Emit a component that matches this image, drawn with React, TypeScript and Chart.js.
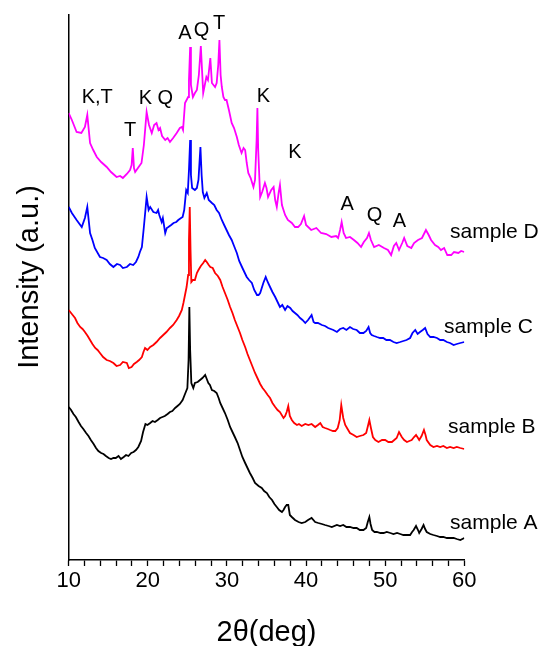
import { useEffect, useRef } from "react";
import { Chart, registerables } from "chart.js";

Chart.register(...registerables);

const FONT = "'Liberation Sans', Arial, Helvetica, sans-serif";

// x axis (2θ, degrees)
const xMin = 10;
const xMax = 60;
const majorTicks = [10, 20, 30, 40, 50, 60];
const yMax = 545; // arbitrary intensity units (stacked, offset patterns)

const sampleNames = ["sample A", "sample B", "sample C", "sample D"];
const sampleColors = ["#000000", "#ff0000", "#0000ff", "#ff00ff"];

// [2θ, intensity]
const sampleA: [number, number][] = [
  [10.0, 153], [10.3, 150], [10.6, 146], [10.9, 143], [11.25, 138], [11.55, 134], [11.85, 131], [12.2, 127],
  [12.5, 124], [12.8, 120], [13.15, 116], [13.45, 112], [13.75, 109], [14.1, 107], [14.4, 106], [14.7, 104],
  [15.05, 102], [15.35, 101], [15.65, 102], [15.95, 102], [16.3, 104], [16.6, 101], [16.95, 103], [17.25, 105],
  [17.55, 104], [17.9, 107], [18.2, 108], [18.5, 110], [18.8, 113], [19.15, 119], [19.4, 128], [19.7, 136],
  [19.95, 135], [20.3, 137], [20.6, 139], [20.9, 138], [21.25, 140], [21.55, 142], [21.85, 143], [22.15, 144],
  [22.5, 146], [22.8, 148], [23.1, 149], [23.45, 152], [23.75, 154], [24.05, 156], [24.4, 160], [24.7, 166],
  [25.0, 172], [25.15, 200], [25.25, 253], [25.35, 210], [25.5, 177], [25.75, 172], [25.95, 177], [26.3, 178],
  [26.6, 180], [26.9, 182], [27.25, 185], [27.4, 182], [27.65, 177], [27.85, 175], [28.1, 170], [28.4, 169],
  [28.7, 167], [28.95, 162], [29.15, 157], [29.45, 152], [29.75, 147], [30.1, 140], [30.4, 133], [30.7, 128],
  [31.0, 123], [31.35, 117], [31.65, 110], [31.95, 103], [32.3, 97], [32.6, 92], [32.9, 87], [33.25, 82],
  [33.55, 77], [34.0, 74], [34.4, 72], [34.7, 69], [35.05, 67], [35.35, 63], [35.7, 60], [36.0, 56],
  [36.3, 53], [36.6, 50], [36.95, 48], [37.15, 50], [37.35, 53], [37.55, 55], [37.75, 55], [37.95, 45],
  [38.2, 43], [38.6, 40], [39.05, 38], [39.45, 37], [39.9, 38], [40.25, 40], [40.7, 42], [41.15, 38],
  [41.55, 37], [42.0, 36], [42.4, 35], [42.85, 34], [43.25, 33], [43.9, 35], [44.3, 34], [44.7, 35],
  [45.1, 33], [45.55, 33], [46.0, 32], [46.4, 32], [46.8, 30], [47.25, 30], [47.6, 32], [47.8, 38],
  [48.0, 43], [48.15, 36], [48.35, 30], [48.65, 28], [48.95, 28], [49.4, 27], [49.8, 27], [50.2, 28],
  [50.65, 27], [51.05, 26], [51.5, 27], [51.9, 26], [52.3, 25], [52.75, 25], [53.15, 25], [53.4, 28],
  [53.6, 30], [53.9, 34], [54.15, 30], [54.3, 27], [54.6, 31], [54.85, 35], [55.05, 31], [55.25, 28],
  [55.7, 26], [56.1, 25], [56.55, 24], [56.95, 23], [57.35, 23], [57.8, 22], [58.2, 22], [58.65, 22],
  [59.05, 21], [59.5, 20], [60.0, 22],
];

const sampleB: [number, number][] = [
  [10.0, 250], [10.5, 245], [10.8, 242], [11.1, 237], [11.45, 233], [11.75, 231], [12.05, 228], [12.4, 224],
  [12.7, 220], [13.0, 216], [13.35, 212], [13.65, 210], [13.95, 207], [14.35, 203], [14.8, 200], [15.2, 199],
  [15.65, 197], [16.05, 194], [16.5, 195], [16.85, 198], [17.35, 197], [17.6, 192], [17.95, 193], [18.25, 196],
  [18.6, 198], [18.9, 200], [19.25, 203], [19.45, 208], [19.65, 212], [19.95, 210], [20.3, 213], [20.7, 215],
  [21.1, 218], [21.55, 222], [21.95, 225], [22.35, 228], [22.8, 232], [23.2, 235], [23.65, 240], [23.95, 244],
  [24.3, 250], [24.5, 257], [24.7, 265], [24.9, 273], [25.1, 285], [25.2, 320], [25.3, 353], [25.4, 310],
  [25.5, 278], [25.7, 280], [25.95, 280], [26.2, 287], [26.4, 290], [26.7, 294], [27.0, 297], [27.25, 300],
  [27.45, 298], [27.7, 295], [27.9, 293], [28.2, 292], [28.5, 287], [28.85, 284], [29.15, 280], [29.45, 273],
  [29.75, 267], [30.1, 260], [30.4, 253], [30.7, 247], [31.0, 240], [31.35, 233], [31.65, 227], [31.95, 220],
  [32.3, 213], [32.6, 206], [32.9, 200], [33.25, 193], [33.55, 187], [33.85, 182], [34.2, 176], [34.5, 172],
  [34.8, 169], [35.15, 165], [35.45, 162], [35.75, 157], [36.1, 153], [36.4, 150], [36.7, 148], [37.15, 142],
  [37.35, 144], [37.55, 148], [37.75, 154], [37.95, 144], [38.2, 140], [38.5, 137], [38.85, 135], [39.1, 136],
  [39.45, 134], [39.9, 136], [40.3, 135], [40.7, 136], [41.15, 133], [41.5, 135], [41.8, 137], [42.1, 133],
  [42.4, 132], [42.75, 131], [43.05, 130], [43.4, 129], [43.7, 129], [44.0, 132], [44.25, 140], [44.45, 155],
  [44.7, 142], [44.95, 135], [45.25, 131], [45.55, 127], [46.0, 125], [46.4, 123], [46.8, 124], [47.25, 125],
  [47.6, 127], [47.85, 135], [48.0, 140], [48.2, 132], [48.45, 123], [48.75, 120], [49.15, 118], [49.6, 120],
  [50.0, 120], [50.4, 118], [50.85, 118], [51.15, 120], [51.45, 122], [51.75, 128], [52.1, 123], [52.4, 120],
  [52.75, 118], [53.05, 119], [53.35, 120], [53.65, 123], [53.9, 125], [54.15, 122], [54.3, 120], [54.6, 124],
  [54.9, 130], [55.1, 125], [55.25, 120], [55.7, 115], [56.1, 113], [56.55, 114], [56.95, 113], [57.35, 114],
  [57.8, 112], [58.2, 113], [58.65, 112], [59.05, 113], [59.5, 112], [60.0, 111],
];

const sampleC: [number, number][] = [
  [10.0, 353], [10.4, 347], [11.0, 340], [11.65, 333], [12.05, 342], [12.35, 353], [12.7, 327], [13.0, 320],
  [13.3, 312], [13.95, 303], [14.35, 302], [14.8, 300], [15.2, 296], [15.65, 293], [16.1, 296], [16.5, 295],
  [16.85, 292], [17.35, 293], [17.75, 296], [18.15, 295], [18.5, 298], [18.8, 303], [19.0, 308], [19.25, 313],
  [19.5, 333], [19.85, 363], [20.1, 350], [20.3, 353], [20.7, 348], [21.1, 347], [21.3, 350], [21.45, 345],
  [21.75, 338], [21.9, 342], [22.2, 327], [22.4, 332], [22.6, 333], [22.95, 335], [23.25, 337], [23.6, 338],
  [23.85, 340], [24.2, 342], [24.4, 343], [24.6, 350], [24.85, 370], [25.05, 367], [25.2, 390], [25.35, 420],
  [25.45, 385], [25.6, 372], [25.95, 370], [26.2, 372], [26.4, 380], [26.55, 400], [26.65, 413], [26.8, 385],
  [26.95, 368], [27.15, 362], [27.45, 367], [27.7, 360], [28.1, 357], [28.4, 355], [28.7, 350], [29.0, 347],
  [29.35, 340], [29.65, 335], [29.95, 330], [30.25, 325], [30.6, 320], [30.9, 314], [31.25, 307], [31.55, 299],
  [31.9, 293], [32.2, 288], [32.5, 283], [32.8, 280], [33.15, 277], [33.45, 270], [33.8, 265], [34.0, 265],
  [34.2, 267], [34.6, 277], [34.9, 283], [35.15, 278], [35.45, 273], [35.75, 268], [36.1, 263], [36.4, 258],
  [36.7, 253], [37.0, 255], [37.35, 250], [37.65, 254], [38.0, 252], [38.3, 249], [38.6, 247], [38.9, 245],
  [39.25, 242], [39.55, 240], [39.9, 237], [40.25, 240], [40.7, 245], [40.95, 238], [41.15, 237], [41.5, 237],
  [42.0, 235], [42.4, 234], [42.8, 232], [43.45, 230], [43.9, 228], [44.3, 231], [44.7, 232], [45.1, 230],
  [45.55, 233], [45.95, 231], [46.4, 230], [46.8, 227], [47.25, 227], [47.6, 229], [47.9, 233], [48.1, 227],
  [48.3, 225], [48.6, 224], [48.95, 223], [49.35, 222], [49.75, 222], [50.15, 220], [50.6, 220], [51.05, 218],
  [51.45, 217], [51.9, 218], [52.3, 219], [52.7, 220], [53.15, 222], [53.45, 227], [53.8, 230], [54.1, 226],
  [54.4, 228], [54.75, 230], [55.05, 232], [55.35, 226], [55.7, 223], [56.1, 223], [56.55, 222], [56.95, 220],
  [57.35, 220], [57.8, 218], [58.2, 217], [58.65, 215], [59.05, 216], [59.5, 217], [60.0, 218],
];

const sampleD: [number, number][] = [
  [10.0, 447], [10.4, 440], [11.0, 428], [11.6, 427], [12.05, 433], [12.35, 445], [12.7, 417], [13.1, 410],
  [13.55, 403], [14.1, 398], [14.8, 393], [15.35, 388], [16.05, 383], [16.5, 384], [16.85, 382], [17.35, 386],
  [17.75, 390], [17.95, 395], [18.1, 412], [18.25, 392], [18.4, 388], [18.75, 392], [19.2, 397], [19.5, 415],
  [19.85, 448], [20.15, 435], [20.5, 427], [20.8, 435], [21.1, 437], [21.35, 430], [21.55, 432], [21.8, 424],
  [22.2, 420], [22.5, 422], [22.8, 418], [23.2, 422], [23.65, 427], [24.05, 432], [24.3, 433], [24.45, 430],
  [24.7, 457], [25.1, 463], [25.2, 480], [25.35, 513], [25.45, 475], [25.7, 463], [25.95, 467], [26.2, 470],
  [26.45, 485], [26.7, 514], [26.85, 490], [27.0, 467], [27.4, 483], [27.6, 480], [27.9, 502], [28.1, 477],
  [28.5, 473], [28.7, 477], [28.9, 495], [29.05, 520], [29.2, 485], [29.35, 473], [29.55, 463], [29.75, 460],
  [29.95, 460], [30.25, 450], [30.6, 437], [30.9, 432], [31.25, 423], [31.5, 415], [31.85, 407], [32.1, 412],
  [32.3, 410], [32.5, 397], [32.7, 387], [33.0, 382], [33.35, 373], [33.55, 380], [33.75, 420], [33.85, 452],
  [33.95, 410], [34.2, 363], [34.45, 368], [34.8, 377], [35.0, 372], [35.2, 363], [35.6, 370], [35.9, 373],
  [36.1, 360], [36.3, 353], [36.55, 368], [36.7, 375], [36.95, 355], [37.35, 345], [37.7, 340], [38.2, 337],
  [38.6, 333], [39.0, 333], [39.35, 336], [39.75, 344], [40.0, 335], [40.65, 330], [41.3, 332], [41.9, 327],
  [42.55, 326], [43.2, 323], [43.8, 324], [44.05, 322], [44.3, 330], [44.5, 338], [44.75, 327], [45.05, 322],
  [45.55, 323], [46.05, 320], [46.5, 317], [46.95, 313], [47.3, 318], [47.7, 322], [47.95, 327], [48.2, 320],
  [48.6, 313], [49.2, 315], [49.85, 312], [50.35, 310], [50.75, 305], [51.1, 314], [51.4, 317], [51.75, 310],
  [52.15, 317], [52.4, 322], [52.8, 314], [53.3, 312], [53.65, 317], [54.15, 320], [54.65, 322], [55.15, 330],
  [55.5, 325], [55.8, 320], [56.3, 315], [56.7, 313], [57.05, 310], [57.45, 312], [57.85, 305], [58.35, 305],
  [58.7, 308], [59.25, 307], [59.6, 309], [60.0, 308],
];

const seriesData = [sampleA, sampleB, sampleC, sampleD];

// phase labels (K, T, Q, A) placed at [2θ, intensity]
const peakLabels = ["K,T", "T", "K", "Q", "A", "Q", "T", "K", "K", "A", "Q", "A"];
const peakTheta = [13.6, 17.75, 19.7, 22.2, 24.7, 26.8, 29.0, 34.6, 38.6, 45.2, 48.65, 51.8];
const peakLevel = [463, 430, 462, 462, 527, 530, 537, 464, 408, 356, 345, 339];

// sample name labels (left edge) at [2θ, intensity]
const nameTheta = [58.2, 57.95, 57.45, 58.2];
const nameLevel = [37, 133, 233, 328];

const annotationPlugin = {
  id: "xrdAnnotations",
  afterDatasetsDraw(chart: any) {
    const { ctx, scales } = chart;
    const x = scales.x;
    const y = scales.y;
    ctx.save();
    ctx.fillStyle = "#000";
    ctx.textBaseline = "middle";
    ctx.textAlign = "center";
    ctx.font = `20px ${FONT}`;
    peakLabels.forEach((t, i) => {
      ctx.fillText(t, x.getPixelForValue(peakTheta[i]), y.getPixelForValue(peakLevel[i]));
    });
    ctx.textAlign = "left";
    ctx.font = `21px ${FONT}`;
    sampleNames.forEach((t, i) => {
      ctx.fillText(t, x.getPixelForValue(nameTheta[i]), y.getPixelForValue(nameLevel[i]));
    });
    // y-axis title
    ctx.translate(30, y.getPixelForValue(283));
    ctx.rotate(-Math.PI / 2);
    ctx.textAlign = "center";
    ctx.font = `29px ${FONT}`;
    ctx.fillText("Intensity (a.u.)", 0, 0);
    ctx.restore();
  },
};

export default function App() {
  const canvasRef = useRef<HTMLCanvasElement | null>(null);

  useEffect(() => {
    document.body.style.margin = "0";
    const canvas = canvasRef.current;
    if (!canvas) return;
    const chart = new Chart(canvas, {
      type: "line",
      data: {
        datasets: seriesData.map((s, i) => ({
          label: sampleNames[i],
          data: s.map(([t, v]) => ({ x: t, y: v })),
          borderColor: sampleColors[i],
          backgroundColor: sampleColors[i],
          borderWidth: 1.8,
          pointRadius: 0,
          tension: 0,
          fill: false,
        })),
      },
      options: {
        responsive: false,
        animation: false,
        events: [],
        layout: { padding: { top: 15, right: 77.7, left: 0, bottom: 0 } },
        plugins: {
          legend: { display: false },
          tooltip: { enabled: false },
        },
        scales: {
          x: {
            type: "linear",
            min: xMin,
            max: xMax,
            afterFit: (scale: any) => {
              scale.height = 86;
              scale.paddingLeft = 0;
              scale.paddingRight = 0;
            },
            ticks: {
              stepSize: 2,
              autoSkip: false,
              maxRotation: 0,
              color: "#000",
              padding: 2,
              font: { family: FONT, size: 22 },
              callback: (v: any) => (majorTicks.includes(Number(v)) ? String(v) : ""),
            },
            grid: {
              drawOnChartArea: false,
              drawTicks: true,
              tickLength: 6,
              tickWidth: 1.3,
              tickColor: "#000",
              color: "#000",
            },
            border: { display: true, color: "#000", width: 1.5 },
            title: {
              display: true,
              text: "2θ(deg)",
              color: "#000",
              font: { family: FONT, size: 29 },
              padding: { top: 0, bottom: -4 },
            },
          },
          y: {
            type: "linear",
            min: 0,
            max: yMax,
            afterFit: (scale: any) => {
              scale.width = 68.7;
            },
            ticks: { display: false },
            grid: { drawOnChartArea: false, drawTicks: false },
            border: { display: true, color: "#000", width: 1.5 },
            title: { display: false },
          },
        },
      },
      plugins: [annotationPlugin],
    });
    return () => chart.destroy();
  }, []);

  return (
    <div style={{ width: 542, height: 646 }}>
      <canvas ref={canvasRef} width={542} height={646} style={{ display: "block" }} />
    </div>
  );
}
